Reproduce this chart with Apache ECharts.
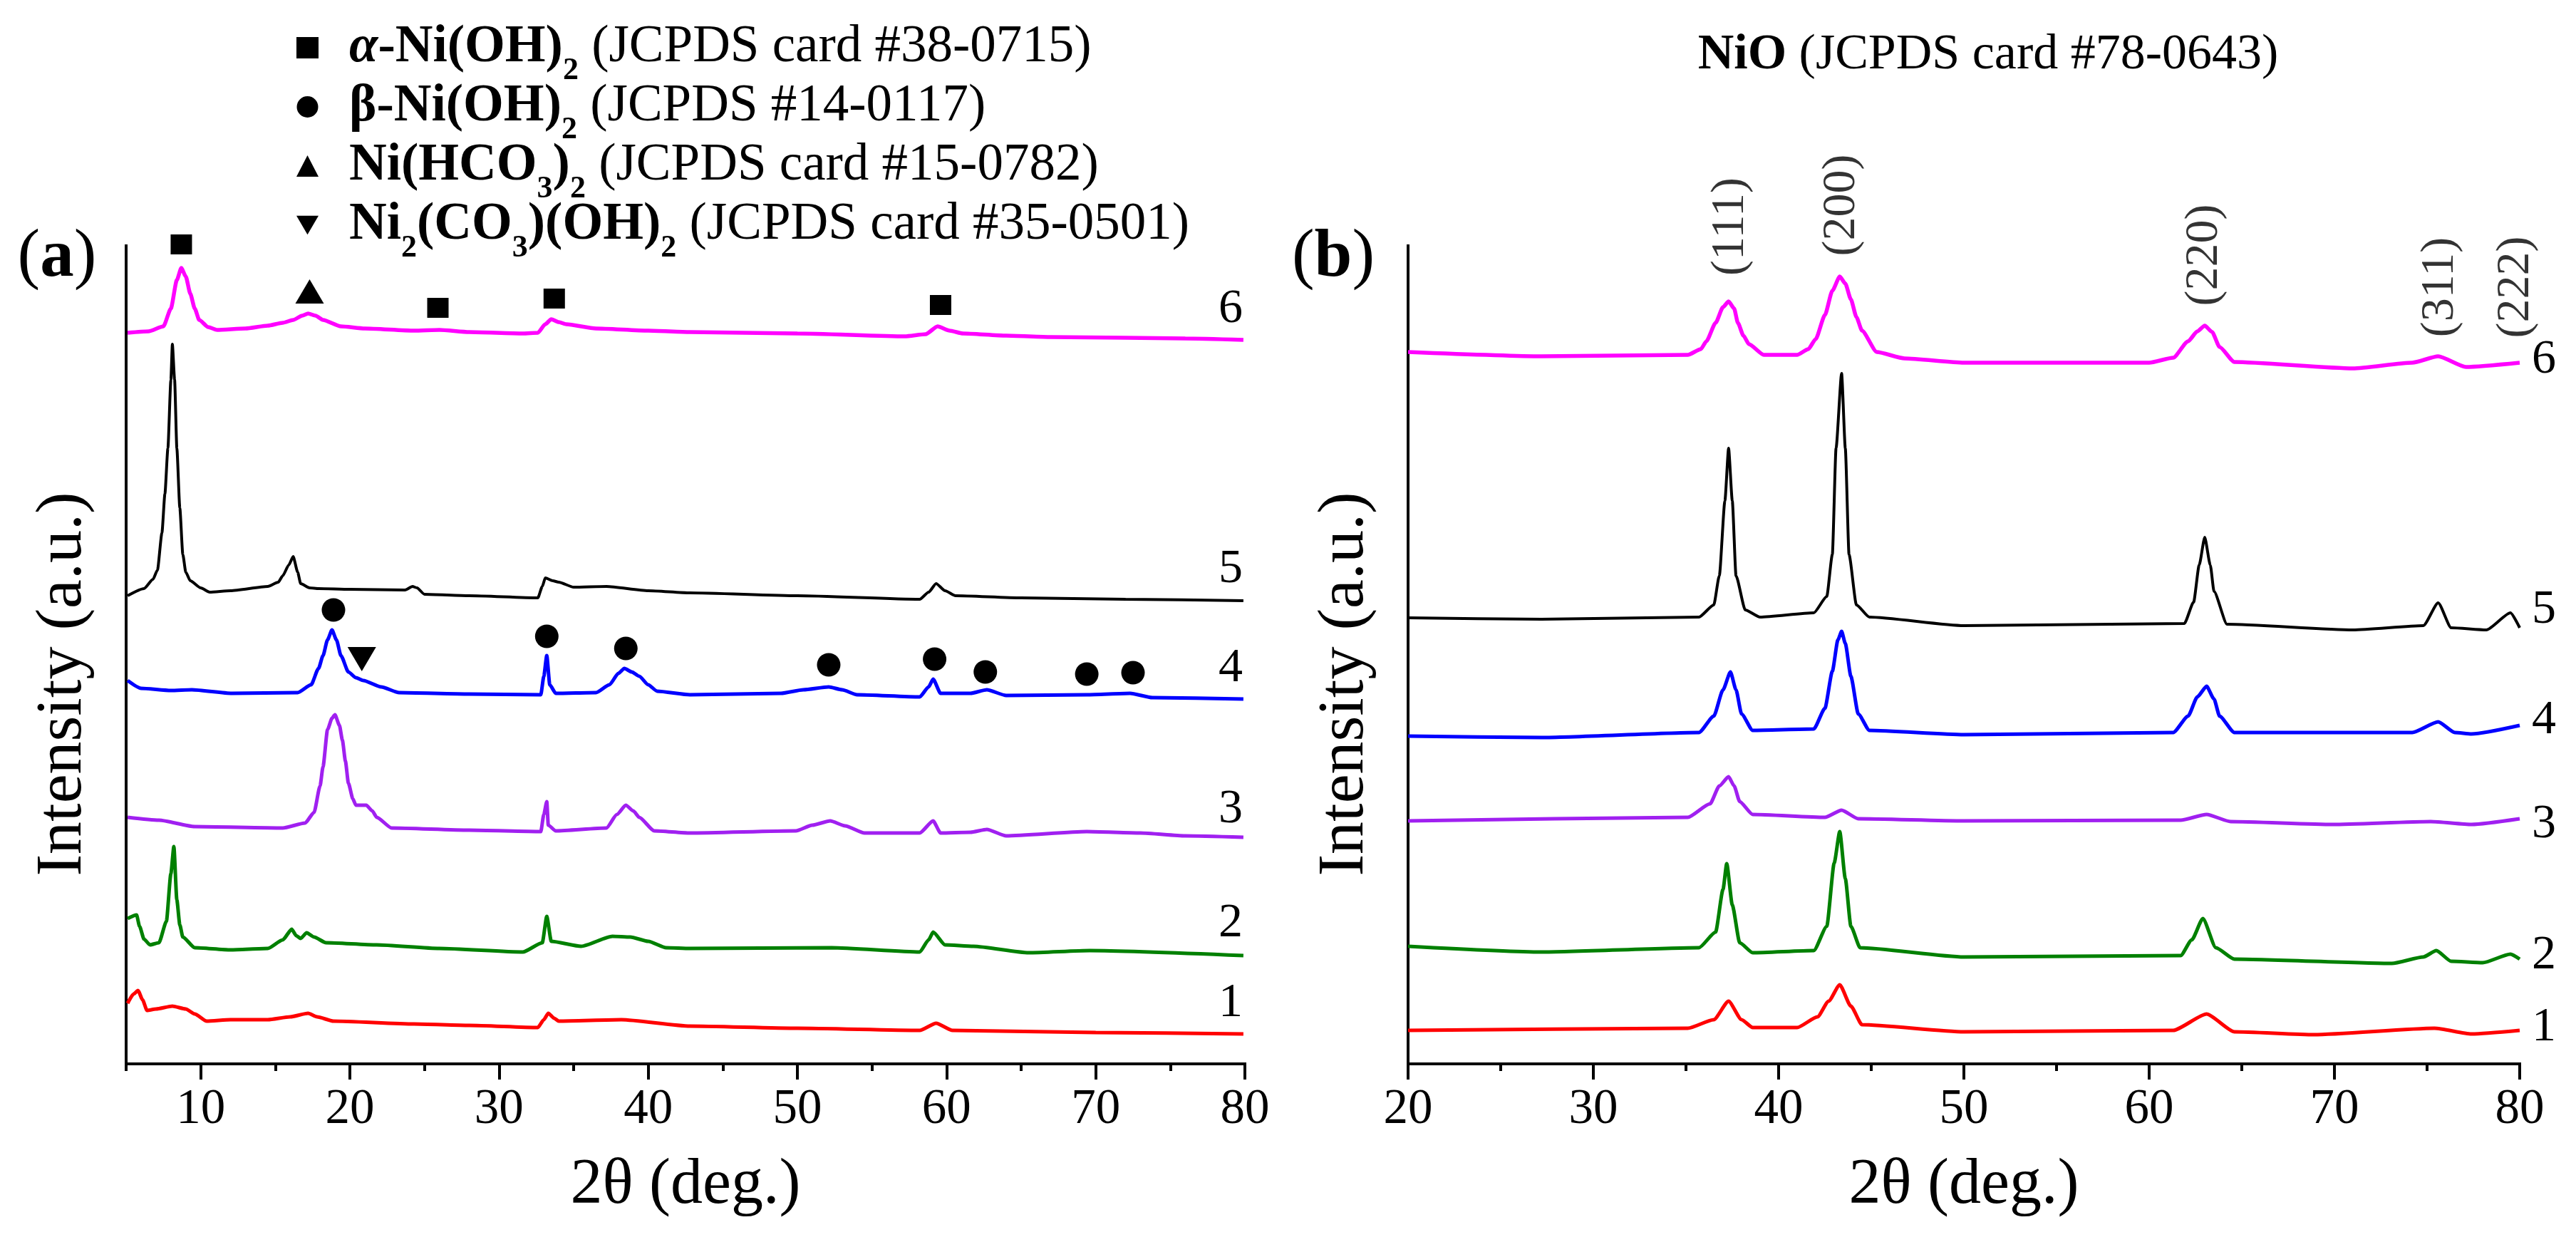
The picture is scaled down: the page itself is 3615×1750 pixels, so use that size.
<!DOCTYPE html>
<html>
<head>
<meta charset="utf-8">
<title>XRD patterns</title>
<script src="https://cdn.jsdelivr.net/npm/echarts@6.0.0/dist/echarts.min.js"></script>
<style>
  html, body { margin: 0; padding: 0; background: #fff; }
  #chart { width: 3615px; height: 1750px; }
</style>
</head>
<body>
<div id="chart"></div>
<script>
var FONT = 'Liberation Serif';

// ---- panel (a): precursors, 2theta 5..80, intensity offset (a.u.) ----
var patternA1 = [[5.1,85],[5.5,98],[5.8,103],[6.1,90],[6.4,75],[7,77],[8.1,81],[9.0,77],[9.6,70],[10.4,60],[12,62],[14.5,62],[16,66],[17.2,71],[17.8,66],[18.9,60],[24.3,56],[28,54],[32.6,51],[33.0,62],[33.3,71],[33.7,64],[34.0,60],[38.2,62],[42.8,53],[50,50],[58.2,47],[59.3,57],[60.4,47],[70,44],[79.9,42]];
var patternA2 = [[5.1,204],[5.7,209],[5.9,193],[6.2,175],[6.6,167],[7.2,170],[7.7,200],[8.0,267],[8.2,305],[8.4,230],[8.6,195],[8.8,178],[9.6,163],[12,160],[14.5,162],[15.5,174],[16.1,189],[16.4,180],[16.7,176],[17.1,184],[17.6,178],[18.4,170],[21.8,167],[26,162],[31.6,157],[32.9,170],[33.2,207],[33.5,172],[35.5,165],[37.6,179],[38.8,178],[40,172],[41.2,163],[42.8,162],[52.3,163],[58.2,157],[58.8,174],[59.1,185],[59.9,167],[61.8,165],[65.5,156],[69.6,159],[79.9,152]];
var patternA3 = [[5.1,346],[7.2,342],[9.6,333],[15.5,331],[17.0,338],[17.6,353],[18.0,390],[18.2,417],[18.5,469],[18.8,485],[19.0,490],[19.3,475],[19.5,454],[19.7,425],[19.9,394],[20.2,372],[20.4,363],[21.1,363],[21.5,355],[21.8,346],[22.8,331],[28,328],[32.8,326],[33.0,350],[33.2,368],[33.3,335],[33.8,327],[37.2,331],[37.9,350],[38.5,363],[39.0,355],[39.4,346],[40.4,327],[42.8,324],[49.9,327],[51,335],[52.2,341],[53.2,334],[54.5,324],[58.2,324],[59.1,341],[59.6,324],[61.6,325],[62.7,329],[64.0,320],[69.4,326],[73.0,324],[76,320],[79.9,318]];
var patternA4 = [[5.1,538],[6.0,527],[8,524],[9.4,525],[12.1,520],[16.5,521],[17.4,532],[17.9,555],[18.2,573],[18.5,595],[18.8,609],[19.1,595],[19.4,573],[19.9,550],[20.4,542],[20.9,538],[22.1,529],[23.3,521],[28,519],[32.8,518],[33.0,544],[33.2,573],[33.4,532],[33.8,520],[36.5,521],[37.4,532],[38.0,548],[38.4,555],[38.9,550],[39.4,544],[40.0,532],[40.6,523],[42.8,518],[48.9,520],[50.4,525],[52.1,529],[53.0,525],[54.0,518],[58.2,515],[58.8,529],[59.1,540],[59.6,520],[61.6,520],[62.7,525],[64.0,517],[69.4,518],[72.3,520],[73.8,514],[79.9,512]];
var patternA5 = [[5.1,657],[6.2,667],[6.8,680],[7.1,693],[7.4,745],[7.6,800],[7.8,864],[8.0,960],[8.1,1010],[8.25,960],[8.4,864],[8.6,780],[8.8,715],[9.0,690],[9.3,678],[10.0,668],[10.6,662],[12,664],[14.5,670],[15.2,676],[15.5,685],[15.9,700],[16.2,712],[16.5,690],[16.7,674],[17.3,668],[17.9,667],[20,666],[23.7,665],[24.2,670],[24.5,668],[25.0,659],[28,657],[32.6,654],[32.9,670],[33.1,682],[33.6,678],[34.0,676],[35,669],[37.2,670],[40,664],[42.8,661],[50,657],[58.2,652],[58.8,662],[59.3,674],[59.9,664],[60.6,657],[65,654],[72,652],[79.9,650]];
var patternA6 = [[5.1,1026],[6.5,1028],[7.5,1035],[8.0,1060],[8.4,1100],[8.7,1117],[9.0,1105],[9.3,1081],[9.6,1060],[9.9,1044],[10.5,1034],[11.1,1030],[13,1032],[14.5,1036],[15.5,1040],[16.2,1044],[16.8,1050],[17.2,1053],[17.7,1050],[18.2,1044],[19.4,1035],[21,1032],[24.3,1029],[26,1030],[28,1027],[31.6,1025],[32.6,1026],[33.1,1038],[33.5,1045],[34.0,1041],[34.5,1038],[36.5,1032],[40,1029],[42.8,1027],[50,1025],[57.2,1021],[58.6,1024],[59.4,1035],[60.2,1029],[61.1,1025],[64,1022],[67,1020],[72,1019],[76,1018],[79.9,1016]];

// phase markers of panel (a), placed above the peaks
var alphaPeaks = [[8.7,1150],[25.9,1061],[33.7,1074],[59.6,1065]];
var betaPeaks = [[18.9,637],[33.2,600],[38.5,583],[52.1,560],[59.2,568],[62.6,550],[69.4,547],[72.5,549]];
var hco3Peaks = [[17.3,1084]];
var co3ohPeaks = [[20.8,568]];

// ---- panel (b): NiO, 2theta 20..80 ----
var patternB1 = [[20,47],[35.1,50],[36.5,62],[37.3,88],[38.0,62],[38.6,51],[41.0,51],[42.1,66],[42.7,88],[43.3,111],[43.9,81],[44.5,55],[50,45],[61.3,47],[63.1,70],[64.6,45],[68.9,41],[75.4,50],[77.4,42],[80,47]];
var patternB2 = [[20,165],[27.2,157],[35.7,163],[36.6,185],[37.0,245],[37.2,281],[37.5,223],[37.9,170],[38.6,156],[41.9,159],[42.6,193],[43.0,282],[43.3,326],[43.6,260],[43.9,193],[44.4,163],[50,150],[61.7,152],[62.3,174],[62.9,204],[63.6,163],[64.6,147],[73.1,141],[74.8,150],[75.5,159],[76.3,144],[78,142],[79.5,154],[80,147]];
var patternB3 = [[20,341],[35.1,346],[36.3,365],[36.8,390],[37.3,403],[37.6,390],[37.9,368],[38.6,350],[42.5,346],[43.4,356],[44.3,344],[50,341],[61.7,342],[63.1,350],[64.4,340],[69.9,336],[75.2,340],[77.4,336],[80,344]];
var patternB4 = [[20,460],[27.2,458],[35.7,465],[36.5,488],[37.0,525],[37.4,550],[37.7,525],[38.0,491],[38.6,468],[41.9,470],[42.5,499],[42.9,551],[43.2,595],[43.4,607],[43.6,590],[43.9,544],[44.3,491],[44.9,468],[50,462],[61.3,465],[62.1,488],[62.6,515],[63.1,530],[63.5,512],[63.8,488],[64.6,465],[74.2,465],[75.6,480],[76.5,465],[77.4,463],[80,475]];
var patternB5 = [[20,626],[27.2,624],[35.7,627],[36.5,644],[36.8,685],[37.1,790],[37.3,864],[37.5,790],[37.7,685],[38.2,637],[39.0,627],[41.9,633],[42.6,656],[42.9,715],[43.1,864],[43.4,969],[43.6,864],[43.8,715],[44.2,644],[44.9,627],[50,615],[61.9,618],[62.4,648],[62.7,700],[63.0,739],[63.3,700],[63.5,663],[64.2,617],[71,609],[74.8,615],[75.6,647],[76.3,612],[78.2,609],[79.5,633],[80,612]];
var patternB6 = [[20,999],[27.2,993],[35.1,995],[35.8,1003],[36.1,1014],[36.6,1040],[37.0,1062],[37.3,1070],[37.6,1060],[37.8,1040],[38.1,1022],[38.4,1010],[39.2,995],[41.0,995],[41.6,1003],[42.0,1017],[42.5,1051],[42.9,1085],[43.3,1105],[43.6,1095],[43.9,1073],[44.2,1048],[44.5,1029],[45.3,999],[46.8,990],[50,984],[60,984],[61.3,991],[62.1,1014],[62.6,1028],[63.0,1036],[63.4,1027],[63.8,1006],[64.6,985],[71,976],[74.2,984],[75.6,993],[77.1,978],[80,984]];

var millerLabels = ['(111)', '(200)', '(220)', '(311)', '(222)'];
var millerPos = [[37.4,1175],[43.4,1205],[63.0,1135],[75.7,1090],[79.8,1090]];

var sampleNames = ['1', '2', '3', '4', '5', '6'];
var sampleColors = ['#ff0000', '#008000', '#a020f0', '#0000ff', '#000000', '#ff00ff'];
var sampleWidths = [5, 5, 5, 5, 4, 5.5];

var majorTicksA = [10, 20, 30, 40, 50, 60, 70, 80];
var minorTicksA = [5, 15, 25, 35, 45, 55, 65, 75];
var majorTicksB = [20, 30, 40, 50, 60, 70, 80];
var minorTicksB = [25, 35, 45, 55, 65, 75];

var Y_MAX = 1148;

var legendText = {
    alpha: '{bi|α}{b|-Ni(OH)}{s|2} (JCPDS card #38-0715)',
    beta: '{b|β-Ni(OH)}{s|2} (JCPDS #14-0117)',
    hco3: '{b|Ni(HCO}{s|3}{b|)}{s|2} (JCPDS card #15-0782)',
    co3oh: '{b|Ni}{s|2}{b|(CO}{s|3}{b|)(OH)}{s|2} (JCPDS card #35-0501)'
};

var chart = echarts.init(document.getElementById('chart'), null, { renderer: 'canvas' });

function mainX(grid, min, major) {
    return {
        type: 'value', gridIndex: grid, min: min, max: 80,
        axisLine: { show: true, onZero: false, lineStyle: { color: '#000', width: 4, cap: 'square' } },
        axisTick: { show: true, customValues: major, length: 22, lineStyle: { color: '#000', width: 4 } },
        axisLabel: { show: true, customValues: major, margin: 30, color: '#000', fontSize: 69, fontFamily: FONT },
        splitLine: { show: false },
        name: '2θ (deg.)', nameLocation: 'middle', nameGap: 126,
        nameTextStyle: { color: '#000', fontSize: 90, fontFamily: FONT }
    };
}
function minorX(grid, min, minor) {
    return {
        type: 'value', gridIndex: grid, min: min, max: 80,
        axisLine: { show: false, onZero: false },
        axisTick: { show: true, customValues: minor, length: 10, lineStyle: { color: '#000', width: 4 } },
        axisLabel: { show: false },
        splitLine: { show: false }
    };
}
function mainY(grid) {
    return {
        type: 'value', gridIndex: grid, min: 0, max: Y_MAX,
        axisLine: { show: true, lineStyle: { color: '#000', width: 4, cap: 'square' } },
        axisTick: { show: false }, axisLabel: { show: false }, splitLine: { show: false },
        name: 'Intensity (a.u.)', nameLocation: 'middle', nameGap: 42,
        nameTextStyle: { color: '#000', fontSize: 92, fontFamily: FONT, padding: [0, 82, 0, 0] }
    };
}
function hiddenY(grid) {
    return { type: 'value', gridIndex: grid, min: 0, max: Y_MAX, show: false };
}

var series = [];
[patternA1, patternA2, patternA3, patternA4, patternA5, patternA6].forEach(function (d, i) {
    series.push({
        type: 'line', name: 'a' + sampleNames[i], xAxisIndex: 0, yAxisIndex: 0, data: d,
        showSymbol: false, smooth: 0.2, smoothMonotone: 'x', silent: true,
        lineStyle: { color: sampleColors[i], width: sampleWidths[i] }
    });
});
[patternB1, patternB2, patternB3, patternB4, patternB5, patternB6].forEach(function (d, i) {
    series.push({
        type: 'line', name: 'b' + sampleNames[i], xAxisIndex: 1, yAxisIndex: 1, data: d,
        showSymbol: false, smooth: 0.2, smoothMonotone: 'x', silent: true,
        lineStyle: { color: sampleColors[i], width: sampleWidths[i] }
    });
});

function markerSeries(name, data, symbol, size, rotate) {
    return {
        type: 'scatter', name: name, xAxisIndex: 0, yAxisIndex: 0, data: data,
        symbol: symbol, symbolSize: size, symbolRotate: rotate || 0, clip: false, z: 5,
        itemStyle: { color: '#000', opacity: 1 }, silent: true
    };
}
series.push(markerSeries('alpha', alphaPeaks, 'rect', [30, 28]));
series.push(markerSeries('beta', betaPeaks, 'circle', 33));
series.push(markerSeries('hco3', hco3Peaks, 'triangle', [40, 34]));
series.push(markerSeries('co3oh', co3ohPeaks, 'triangle', [40, 34], 180));

series.push({
    type: 'scatter', name: 'hkl', xAxisIndex: 1, yAxisIndex: 1, clip: false, silent: true,
    symbolSize: 1, itemStyle: { color: 'rgba(0,0,0,0)' },
    data: millerPos.map(function (p, i) { return { name: millerLabels[i], value: p }; }),
    label: {
        show: true, position: 'inside', rotate: 90, formatter: '{b}',
        color: '#000', fontSize: 66, fontFamily: FONT
    }
});

function txt(x, y, text, size, rich) {
    return {
        type: 'text', x: x, y: y, silent: true,
        style: {
            text: text, fill: '#000', fontSize: size, fontFamily: FONT,
            align: 'center', verticalAlign: 'middle',
            textAlign: 'center', textVerticalAlign: 'middle',
            rich: rich
        }
    };
}
var labelYA = [1408, 1296, 1136, 938, 799, 434];
var labelYB = [1442, 1341, 1157, 1011, 856, 505];
var graphics = [];
sampleNames.forEach(function (n, i) {
    graphics.push(txt(1727, labelYA[i], n, 68));
    graphics.push(txt(3570, labelYB[i], n, 68));
});
var boldRich = { b: { fontSize: 95, fontFamily: FONT, fontWeight: 'bold', fill: '#000' } };
graphics.push(txt(80, 362, '({b|a})', 95, boldRich));
graphics.push(txt(1871, 362, '({b|b})', 95, boldRich));
graphics.push(txt(2790, 78, '{b|NiO} (JCPDS card #78-0643)', 70,
    { b: { fontSize: 70, fontFamily: FONT, fontWeight: 'bold', fill: '#000' } }));

chart.setOption({
    animation: false,
    backgroundColor: '#fff',
    grid: [
        { left: 177, top: 345, width: 1570, height: Y_MAX },
        { left: 1976, top: 345, width: 1560, height: Y_MAX },
        { left: 177, top: 345, width: 1570, height: Y_MAX },
        { left: 1976, top: 345, width: 1560, height: Y_MAX }
    ],
    xAxis: [mainX(0, 5, majorTicksA), mainX(1, 20, majorTicksB), minorX(2, 5, minorTicksA), minorX(3, 20, minorTicksB)],
    yAxis: [mainY(0), mainY(1), hiddenY(2), hiddenY(3)],
    legend: {
        left: 416, top: 27, orient: 'vertical', padding: 0, itemGap: -12,
        itemWidth: 31, itemHeight: 30, selectedMode: false,
        data: [
            { name: 'alpha', icon: 'rect' },
            { name: 'beta', icon: 'circle' },
            { name: 'hco3', icon: 'triangle' },
            { name: 'co3oh', icon: 'path://M0,0L10,0L5,8.5Z' }
        ],
        formatter: function (name) { return legendText[name]; },
        textStyle: {
            color: '#000', fontSize: 73, fontFamily: FONT, lineHeight: 80, padding: [0, 0, 0, 38],
            rich: {
                b: { fontSize: 73, fontFamily: FONT, fontWeight: 'bold', color: '#000', lineHeight: 80 },
                bi: { fontSize: 73, fontFamily: FONT, fontWeight: 'bold', fontStyle: 'italic', color: '#000', lineHeight: 80 },
                s: { fontSize: 44, fontFamily: FONT, fontWeight: 'bold', color: '#000', lineHeight: 2, height: 14, verticalAlign: 'bottom' }
            }
        }
    },
    graphic: { elements: graphics },
    series: series
});
</script>
</body>
</html>
